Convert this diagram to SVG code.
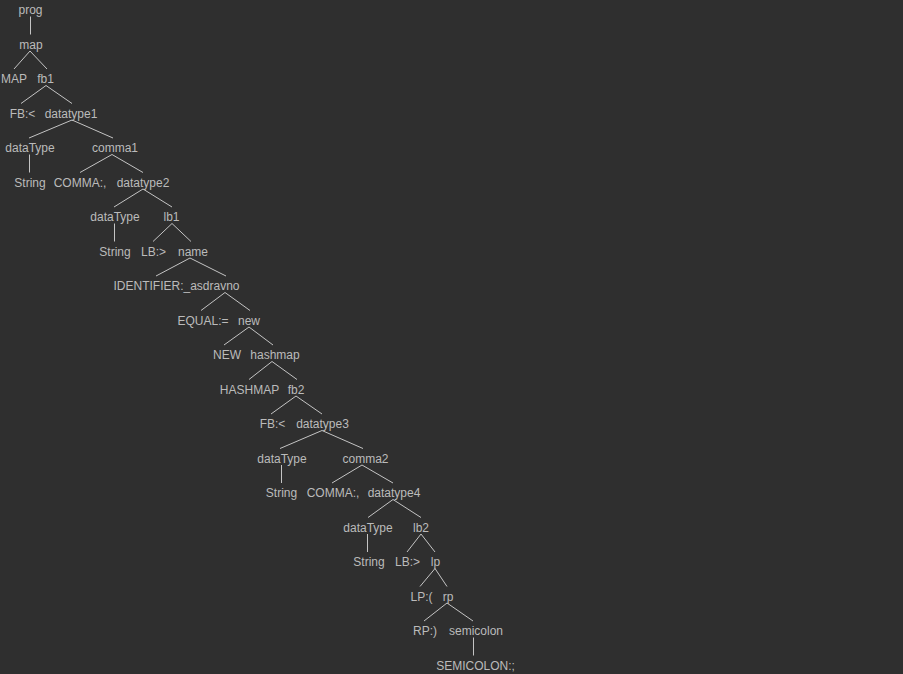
<svg xmlns="http://www.w3.org/2000/svg" width="903" height="674" viewBox="0 0 903 674">
<style>
text{font-family:"Liberation Sans",Arial,sans-serif;font-size:12px;fill:#bbbbbb;text-anchor:middle}
.e line{stroke:#c4c4c4;stroke-width:1}
</style>
<rect width="903" height="674" fill="#2f2f2f"/>
<g class="e" id="connectors">
<line x1="30.5" y1="16.5" x2="30.5" y2="34.5"/>
<line x1="30" y1="51" x2="14" y2="69"/>
<line x1="30" y1="51" x2="47" y2="69"/>
<line x1="46" y1="85.5" x2="21" y2="103.5"/>
<line x1="46" y1="85.5" x2="72" y2="103.5"/>
<line x1="72" y1="120" x2="29" y2="138"/>
<line x1="72" y1="120" x2="113" y2="138"/>
<line x1="29.5" y1="154.5" x2="29.5" y2="172.5"/>
<line x1="112" y1="154.5" x2="80" y2="172.5"/>
<line x1="112" y1="154.5" x2="143" y2="172.5"/>
<line x1="143" y1="189" x2="114" y2="207"/>
<line x1="143" y1="189" x2="172" y2="207"/>
<line x1="114.5" y1="223.5" x2="114.5" y2="241.5"/>
<line x1="172" y1="223.5" x2="153" y2="241.5"/>
<line x1="172" y1="223.5" x2="191" y2="241.5"/>
<line x1="190" y1="258" x2="156" y2="276"/>
<line x1="190" y1="258" x2="226" y2="276"/>
<line x1="225" y1="292.5" x2="201" y2="310.5"/>
<line x1="225" y1="292.5" x2="250" y2="310.5"/>
<line x1="249" y1="327" x2="224" y2="345"/>
<line x1="249" y1="327" x2="273" y2="345"/>
<line x1="272" y1="361.5" x2="249" y2="379.5"/>
<line x1="272" y1="361.5" x2="297" y2="379.5"/>
<line x1="296" y1="396" x2="271" y2="414"/>
<line x1="296" y1="396" x2="322" y2="414"/>
<line x1="322" y1="430.5" x2="280" y2="448.5"/>
<line x1="322" y1="430.5" x2="363" y2="448.5"/>
<line x1="281.5" y1="465" x2="281.5" y2="483"/>
<line x1="362" y1="465" x2="332" y2="483"/>
<line x1="362" y1="465" x2="393" y2="483"/>
<line x1="393" y1="499.5" x2="368" y2="517.5"/>
<line x1="393" y1="499.5" x2="421" y2="517.5"/>
<line x1="367.5" y1="534" x2="367.5" y2="552"/>
<line x1="421" y1="534" x2="407" y2="552"/>
<line x1="421" y1="534" x2="435" y2="552"/>
<line x1="435" y1="568.5" x2="420" y2="586.5"/>
<line x1="435" y1="568.5" x2="447" y2="586.5"/>
<line x1="447" y1="603" x2="424" y2="621"/>
<line x1="447" y1="603" x2="473" y2="621"/>
<line x1="473.5" y1="637.5" x2="473.5" y2="655.5"/>
</g>
<g id="prog"><text x="30.5" y="14">prog</text></g>
<g id="map"><text x="31" y="48.5">map</text></g>
<g id="MAP"><text x="14" y="83">MAP</text></g>
<g id="fb1"><text x="45.5" y="83">fb1</text></g>
<g id="FB1"><text x="22.5" y="117.5">FB:&lt;</text></g>
<g id="datatype1"><text x="71" y="117.5">datatype1</text></g>
<g id="dataType1"><text x="30" y="152">dataType</text></g>
<g id="comma1"><text x="115" y="152">comma1</text></g>
<g id="String1"><text x="30" y="186.5">String</text></g>
<g id="COMMA1"><text x="80" y="186.5">COMMA:,</text></g>
<g id="datatype2"><text x="143" y="186.5">datatype2</text></g>
<g id="dataType2"><text x="115" y="221">dataType</text></g>
<g id="lb1"><text x="171.5" y="221">lb1</text></g>
<g id="String2"><text x="115" y="255.5">String</text></g>
<g id="LB1"><text x="153.5" y="255.5">LB:&gt;</text></g>
<g id="name"><text x="193" y="255.5">name</text></g>
<g id="IDENTIFIER"><text x="176.5" y="290">IDENTIFIER:_asdravno</text></g>
<g id="EQUAL"><text x="203" y="324.5">EQUAL:=</text></g>
<g id="new"><text x="249" y="324.5">new</text></g>
<g id="NEW"><text x="227" y="359">NEW</text></g>
<g id="hashmap"><text x="275" y="359">hashmap</text></g>
<g id="HASHMAP"><text x="249.5" y="393.5">HASHMAP</text></g>
<g id="fb2"><text x="296" y="393.5">fb2</text></g>
<g id="FB2"><text x="272.5" y="428">FB:&lt;</text></g>
<g id="datatype3"><text x="322.5" y="428">datatype3</text></g>
<g id="dataType3"><text x="282" y="462.5">dataType</text></g>
<g id="comma2"><text x="365.5" y="462.5">comma2</text></g>
<g id="String3"><text x="281.5" y="497">String</text></g>
<g id="COMMA2"><text x="333" y="497">COMMA:,</text></g>
<g id="datatype4"><text x="394" y="497">datatype4</text></g>
<g id="dataType4"><text x="368" y="531.5">dataType</text></g>
<g id="lb2"><text x="421" y="531.5">lb2</text></g>
<g id="String4"><text x="369" y="566">String</text></g>
<g id="LB2"><text x="407.5" y="566">LB:&gt;</text></g>
<g id="lp"><text x="435.5" y="566">lp</text></g>
<g id="LP"><text x="421.5" y="600.5">LP:(</text></g>
<g id="rp"><text x="448" y="600.5">rp</text></g>
<g id="RP"><text x="425" y="635">RP:)</text></g>
<g id="semicolon"><text x="476" y="635">semicolon</text></g>
<g id="SEMICOLON"><text x="475.5" y="669.5">SEMICOLON:;</text></g>
</svg>
